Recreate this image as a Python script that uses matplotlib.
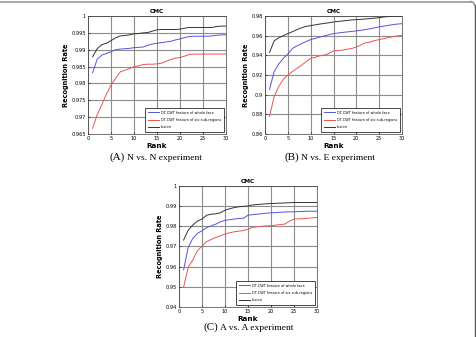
import matplotlib
matplotlib.use("Agg")
import matplotlib.pyplot as plt
from matplotlib.lines import Line2D
from matplotlib.ticker import FuncFormatter, MultipleLocator

rank = list(range(1, 31))

a_whole = [0.9832, 0.9872, 0.9884, 0.9889, 0.9894, 0.9900, 0.9902, 0.9903, 0.9904, 0.9906,
           0.9907, 0.9908, 0.9913, 0.9917, 0.9919, 0.9921, 0.9923, 0.9925, 0.9929, 0.9932,
           0.9936, 0.9939, 0.9940, 0.9940, 0.9940, 0.9940, 0.9941, 0.9943, 0.9944, 0.9944]
a_six = [0.9667, 0.9707, 0.9737, 0.9768, 0.9795, 0.9815, 0.9834, 0.9839, 0.9844, 0.9850,
         0.9852, 0.9856, 0.9857, 0.9857, 0.9858, 0.9860, 0.9866, 0.9871, 0.9875, 0.9877,
         0.9881, 0.9886, 0.9887, 0.9887, 0.9887, 0.9887, 0.9887, 0.9887, 0.9887, 0.9887]
a_fusion = [0.9879, 0.9903, 0.9915, 0.9919, 0.9927, 0.9935, 0.9941, 0.9942, 0.9944, 0.9947,
            0.9948, 0.9950, 0.9951, 0.9955, 0.9959, 0.9960, 0.9960, 0.9960, 0.9960, 0.9961,
            0.9964, 0.9966, 0.9966, 0.9966, 0.9966, 0.9966, 0.9966, 0.9969, 0.9970, 0.9970]

b_whole = [0.9055, 0.9234, 0.9311, 0.9369, 0.9412, 0.9470, 0.9495, 0.9520, 0.9540, 0.9560,
           0.9572, 0.9585, 0.9598, 0.9610, 0.9621, 0.9627, 0.9633, 0.9638, 0.9643, 0.9648,
           0.9655, 0.9662, 0.9670, 0.9680, 0.9689, 0.9697, 0.9705, 0.9712, 0.9718, 0.9722]
b_six = [0.8779, 0.8981, 0.9082, 0.9156, 0.9200, 0.9235, 0.9267, 0.9300, 0.9335, 0.9369,
         0.9380, 0.9395, 0.9402, 0.9420, 0.9446, 0.9448, 0.9453, 0.9462, 0.9470, 0.9485,
         0.9505, 0.9527, 0.9535, 0.9550, 0.9560, 0.9570, 0.9580, 0.9590, 0.9597, 0.9604]
b_fusion = [0.9430, 0.9547, 0.9578, 0.9600, 0.9621, 0.9640, 0.9662, 0.9680, 0.9695, 0.9702,
            0.9710, 0.9718, 0.9725, 0.9731, 0.9739, 0.9745, 0.9750, 0.9755, 0.9760, 0.9763,
            0.9766, 0.9770, 0.9774, 0.9778, 0.9783, 0.9790, 0.9795, 0.9797, 0.9797, 0.9797]

c_whole = [0.9584, 0.9696, 0.9740, 0.9765, 0.9778, 0.9793, 0.9803, 0.9811, 0.9822, 0.9830,
           0.9833, 0.9836, 0.9839, 0.9840, 0.9855, 0.9858, 0.9860, 0.9863, 0.9865, 0.9867,
           0.9868, 0.9870, 0.9871, 0.9872, 0.9872, 0.9873, 0.9874, 0.9875, 0.9875, 0.9875]
c_six = [0.9499, 0.9597, 0.9633, 0.9679, 0.9702, 0.9724, 0.9735, 0.9745, 0.9753, 0.9762,
         0.9768, 0.9773, 0.9776, 0.9779, 0.9786, 0.9795, 0.9798, 0.9800, 0.9802, 0.9803,
         0.9806, 0.9809, 0.9811, 0.9825, 0.9836, 0.9837, 0.9838, 0.9840, 0.9842, 0.9844]
c_fusion = [0.9732, 0.9781, 0.9806, 0.9826, 0.9836, 0.9855, 0.9860, 0.9862, 0.9867, 0.9880,
            0.9887, 0.9893, 0.9897, 0.9899, 0.9901, 0.9906, 0.9908, 0.9910, 0.9912, 0.9913,
            0.9914, 0.9915, 0.9916, 0.9917, 0.9918, 0.9918, 0.9918, 0.9918, 0.9918, 0.9918]

labels = ["DT-CWT feature of whole face", "DT-CWT feature of six sub-regions", "fusion"]
captions = [("(A)", "N vs. N experiment"), ("(B)", "N vs. E experiment"), ("(C)", "A vs. A experiment")]

W, H = 476, 337
fig = plt.figure(figsize=(W / 100, H / 100), dpi=100)

def box(l, r, t, b):
    return [l / W, 1 - b / H, (r - l) / W, (b - t) / H]

panels = [
    (box(88, 226, 16, 134), a_whole, a_six, a_fusion, (0.965, 1.0), 0.005),
    (box(265, 402, 16, 134), b_whole, b_six, b_fusion, (0.86, 0.98), 0.02),
    (box(179, 317, 186, 307), c_whole, c_six, c_fusion, (0.94, 1.0), 0.01),
]

fmt = FuncFormatter(lambda v, p: ("%g" % round(v, 4)))
for rect, w, s, f, ylim, step in panels:
    ax = fig.add_axes(rect)
    ax.set_axisbelow(True)
    ax.plot(rank, w, color="#5555dd", lw=0.7, label=labels[0])
    ax.plot(rank, s, color="#e65555", lw=0.7, label=labels[1])
    ax.plot(rank, f, color="#333333", lw=0.7, label=labels[2])
    ax.set_xlim(0, 30)
    ax.set_ylim(*ylim)
    ax.xaxis.set_major_locator(MultipleLocator(5))
    ax.yaxis.set_major_locator(MultipleLocator(step))
    ax.yaxis.set_major_formatter(fmt)
    ax.tick_params(labelsize=3.6, length=1.5, width=0.4, pad=1.5, direction="in")
    ax.grid(True, which="major", color="#8c8c8c", linewidth=0.8, linestyle="-")
    for sp in ax.spines.values():
        sp.set_linewidth(0.5)
        sp.set_color("#444444")
    ax.set_title("CMC", fontsize=4.2, fontweight="bold", pad=2.5)
    ax.set_xlabel("Rank", fontsize=5.2, fontweight="bold", labelpad=1.5)
    ax.set_ylabel("Recognition Rate", fontsize=4.8, fontweight="bold", labelpad=2)
    leg = ax.legend(loc="lower right", fontsize=2.5, frameon=True, fancybox=False,
                    edgecolor="black", borderpad=0.8, handlelength=3.2, labelspacing=1.0,
                    borderaxespad=0.5, handletextpad=0.6)
    leg.get_frame().set_linewidth(0.5)
    leg.get_frame().set_alpha(1)

cap_pos = [(125, 160), (299, 160), (218, 330)]
for (c1, c2), (x, y) in zip(captions, cap_pos):
    fig.text(x / W, 1 - y / H, c1, ha="right", va="baseline", fontsize=8,
             family="Liberation Serif")
    fig.text((x + 2) / W, 1 - y / H, c2, ha="left", va="baseline", fontsize=6.8,
             family="Liberation Serif")

# frame
fig.add_artist(Line2D([0, 471 / W], [1 - 1.5 / H, 1 - 1.5 / H], color="#999999", lw=1.2,
                      transform=fig.transFigure))
fig.add_artist(Line2D([471 / W, 473.5 / W, 474.5 / W], [1 - 1.5 / H, 1 - 2.5 / H, 1 - 5 / H],
                      color="#888888", lw=1.0, transform=fig.transFigure))
fig.add_artist(Line2D([474.5 / W, 474.5 / W], [1 - 5 / H, 0], color="#555555", lw=1.0,
                      transform=fig.transFigure))

fig.savefig("out.png", dpi=100)
